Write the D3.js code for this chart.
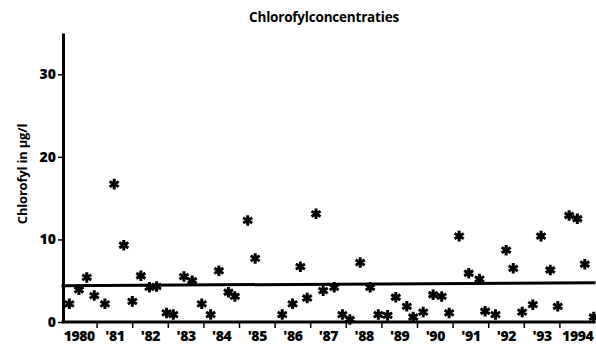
<!DOCTYPE html>
<html>
<head>
<meta charset="utf-8">
<script src="https://cdn.jsdelivr.net/npm/d3@7"></script>
<style>
  html, body { margin: 0; padding: 0; background: #fff; }
  svg { display: block; }
  text { font-family: "Open Sans", "DejaVu Sans", sans-serif; fill: #000; }
</style>
</head>
<body>
<svg id="chart" width="596" height="345"></svg>
<script>
// Sampling moments (decimal years) and chlorophyll concentrations (µg/l)
const sampleTimes = [
  1980.22, 1980.49, 1980.71, 1980.92, 1981.22, 1981.48, 1981.75, 1981.99,
  1982.23, 1982.47, 1982.67, 1982.95, 1983.14, 1983.44, 1983.67, 1983.94,
  1984.19, 1984.42, 1984.69, 1984.87, 1985.23, 1985.44, 1986.20, 1986.49,
  1986.71, 1986.90, 1987.15, 1987.35, 1987.66, 1987.89, 1988.10, 1988.39,
  1988.67, 1988.90, 1989.16, 1989.39, 1989.70, 1989.88, 1990.16, 1990.44,
  1990.68, 1990.89, 1991.17, 1991.44, 1991.74, 1991.90, 1992.19, 1992.49,
  1992.69, 1992.94, 1993.24, 1993.47, 1993.73, 1993.94, 1994.26, 1994.49,
  1994.70, 1994.95
];
const chlorophyll = [
  2.2, 3.9, 5.4, 3.2, 2.2, 16.7, 9.3, 2.5,
  5.6, 4.2, 4.3, 1.1, 0.9, 5.5, 5.0, 2.2,
  0.9, 6.2, 3.6, 3.1, 12.3, 7.7, 0.9, 2.2,
  6.7, 2.9, 13.1, 3.8, 4.2, 0.9, 0.3, 7.2,
  4.2, 0.9, 0.8, 3.0, 1.9, 0.6, 1.2, 3.3,
  3.1, 1.1, 10.4, 5.9, 5.2, 1.3, 0.9, 8.7,
  6.5, 1.2, 2.1, 10.4, 6.3, 1.9, 12.9, 12.5,
  7.0, 0.6
];
// Trend line through the series: value at start and end of the period
const trendYears = [1980, 1995];
const trendValues = [4.4, 4.75];

const yearLabels = ["1980", "'81", "'82", "'83", "'84", "'85", "'86", "'87",
                    "'88", "'89", "'90", "'91", "'92", "'93", "1994"];
const yTicks = [0, 10, 20, 30];

const svg = d3.select("#chart");
const x = d3.scaleLinear().domain([1980, 1995]).range([61.5, 595.5]);
const y = d3.scaleLinear().domain([0, 35]).range([322, 33]);

// Title
svg.append("text")
  .attr("x", 324).attr("y", 22)
  .attr("text-anchor", "middle")
  .style("font-size", "13.5px").style("font-weight", 700)
  .style("letter-spacing", "-0.2px")
  .text("Chlorofylconcentraties");

// Y axis title
svg.append("text")
  .attr("transform", "translate(27,174) rotate(-90)")
  .attr("text-anchor", "middle")
  .style("font-size", "13px").style("font-weight", 700)
  .style("letter-spacing", "-0.2px")
  .text("Chlorofyl in µg/l");

// Y axis
const yAxis = svg.append("g")
  .attr("transform", `translate(${x(1980) + 1.5},0)`)
  .call(d3.axisLeft(y).tickValues(yTicks).tickSize(5).tickPadding(2).tickSizeOuter(0));
yAxis.select(".domain").attr("stroke", "#000").attr("stroke-width", 3);
yAxis.selectAll(".tick line").attr("stroke", "#000").attr("stroke-width", 1.5);
yAxis.selectAll(".tick text")
  .style("font-size", "14px").style("font-weight", 800)
  .style("font-family", "\"Open Sans\", sans-serif");

// X axis: ticks at year boundaries, labels centred in each year
const boundaries = d3.range(1981, 1995);
const xAxis = svg.append("g").attr("transform", `translate(0,${y(0)})`);
xAxis.append("line")
  .attr("x1", x(1980)).attr("x2", x(1995))
  .attr("y1", 0).attr("y2", 0)
  .attr("stroke", "#000").attr("stroke-width", 3);
xAxis.selectAll("line.tick")
  .data(boundaries).join("line")
  .attr("class", "tick")
  .attr("x1", d => x(d)).attr("x2", d => x(d))
  .attr("y1", 0).attr("y2", 6)
  .attr("stroke", "#000").attr("stroke-width", 1.5);
xAxis.selectAll("text.lab")
  .data(yearLabels).join("text")
  .attr("class", "lab")
  .attr("x", (d, i) => x(1980 + i + 0.5))
  .attr("y", 19)
  .attr("text-anchor", "middle")
  .style("font-size", "14px").style("font-weight", 800)
  .style("letter-spacing", "-0.4px")
  .text(d => d);

// Trend line
svg.append("line")
  .attr("x1", x(trendYears[0])).attr("x2", x(trendYears[1]))
  .attr("y1", y(trendValues[0])).attr("y2", y(trendValues[1]))
  .attr("stroke", "#000").attr("stroke-width", 3);

// Asterisk markers
const star = d3.symbol().type(d3.symbolAsterisk).size(78);
svg.append("g").selectAll("path")
  .data(sampleTimes.map((t, i) => [t, chlorophyll[i]]))
  .join("path")
  .attr("transform", d => `translate(${x(d[0])},${y(d[1])})`)
  .attr("d", star)
  .attr("fill", "none")
  .attr("stroke", "#000")
  .attr("stroke-width", 3);
</script>
</body>
</html>
